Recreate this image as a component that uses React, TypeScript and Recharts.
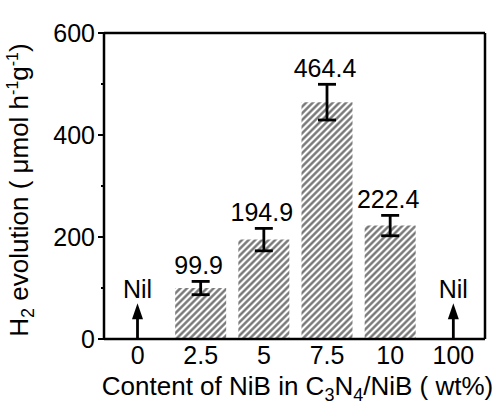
import { ComposedChart, Bar, Line, XAxis, YAxis, ErrorBar, LabelList } from "recharts";

// NiB loading (wt%) on the x axis
const categories = ["0", "2.5", "5", "7.5", "10", "100"];
// H2 evolution rate, µmol h-1 g-1 (no activity for pure C3N4 and pure NiB)
const h2Rates = [null, 99.9, 194.9, 464.4, 222.4, null];
const h2Errors = [null, 13, 22, 35, 20, null];
// height of the "Nil" arrows, in axis units
const nilMarks = [70, null, null, null, null, 70];
const yTicks = [0, 100, 200, 300, 400, 500, 600];
const yLabelled = [0, 200, 400, 600];

const data = categories.map((cat, i) => ({
  cat,
  rate: h2Rates[i],
  err: h2Errors[i],
  nil: nilMarks[i],
}));

const FONT = "'Liberation Sans', Arial, sans-serif";
const AXIS = { stroke: "#000", strokeWidth: 2.5 };

function YTick({ x, y, payload }: any) {
  const major = yLabelled.includes(payload.value);
  return (
    <g>
      <line x1={x - (major ? 6 : 3)} x2={x} y1={y} y2={y} stroke="#000" strokeWidth={2} />
      {major && (
        <text x={x - 9} y={y} dy="0.36em" textAnchor="end" fontSize={25} fontFamily={FONT} fill="#000">
          {payload.value}
        </text>
      )}
    </g>
  );
}

function XTick({ x, y, payload }: any) {
  return (
    <text x={x} y={y + 25} textAnchor="middle" fontSize={25} fontFamily={FONT} fill="#000">
      {payload.value}
    </text>
  );
}

function XTitle({ viewBox }: any) {
  const { x, y, width } = viewBox;
  return (
    <text x={x + width / 2 + 3} y={y + 56} textAnchor="middle" fontSize={26} fontFamily={FONT} fill="#000">
      Content of NiB in C
      <tspan dy={6} fontSize={18}>3</tspan>
      <tspan dy={-6}>N</tspan>
      <tspan dy={6} fontSize={18}>4</tspan>
      <tspan dy={-6}>/NiB ( wt%)</tspan>
    </text>
  );
}

function YTitle({ viewBox }: any) {
  const { y, height } = viewBox;
  const cx = 28;
  const cy = y + height / 2 + 4;
  return (
    <text
      x={cx}
      y={cy}
      transform={`rotate(-90, ${cx}, ${cy})`}
      textAnchor="middle"
      fontSize={26}
      fontFamily={FONT}
      fill="#000"
    >
      H
      <tspan dy={6} fontSize={18}>2</tspan>
      <tspan dy={-6}> evolution ( μmol h</tspan>
      <tspan dy={-10} fontSize={16}>-1</tspan>
      <tspan dy={10}>g</tspan>
      <tspan dy={-10} fontSize={16}>-1</tspan>
      <tspan dy={10}>)</tspan>
    </text>
  );
}

// value printed just above the top whisker
function RateLabel({ x, y, width, height, value }: any) {
  const i = h2Rates.indexOf(value);
  if (value == null || i < 0) return null;
  const e = h2Errors[i] ?? 0;
  const top = y - (e * height) / value;
  return (
    <text x={x + width / 2 - 2} y={top - 7} textAnchor="middle" fontSize={25} fontFamily={FONT} fill="#000">
      {value.toFixed(1)}
    </text>
  );
}

// upward arrow with "Nil" for samples without measurable activity
function NilArrow({ x, y, width, height, payload }: any) {
  if (!payload || payload.nil == null || !height) return <g />;
  const cx = x + width / 2;
  const base = y + height;
  return (
    <g>
      <line x1={cx} x2={cx} y1={base} y2={y + 12} stroke="#000" strokeWidth={2.8} />
      <polygon points={`${cx},${y} ${cx - 5.5},${y + 16} ${cx + 5.5},${y + 16}`} fill="#000" />
      <text x={cx} y={y - 5} textAnchor="middle" fontSize={25} fontFamily={FONT} fill="#000">
        Nil
      </text>
    </g>
  );
}

export default function App() {
  return (
    <div style={{ position: "absolute", left: 0, top: 0, width: 494, height: 405, background: "#fff" }}>
      <ComposedChart
        width={494}
        height={405}
        data={data}
        margin={{ top: 32, right: 8, left: 0, bottom: 0 }}
        barSize={51}
      >
        <defs>
          <pattern id="hatch" patternUnits="userSpaceOnUse" width={4.7} height={4.7} patternTransform="rotate(45)">
            <line x1={2.35} y1={0} x2={2.35} y2={4.7} stroke="#6f6f6f" strokeWidth={2.3} />
          </pattern>
        </defs>
        <XAxis
          dataKey="cat"
          height={66}
          padding={{ left: 2, right: 0 }}
          axisLine={AXIS}
          tickLine={false}
          tickSize={0}
          tickMargin={0}
          tick={<XTick />}
          interval={0}
          label={{ content: <XTitle /> }}
        />
        <XAxis
          xAxisId="top"
          dataKey="cat"
          orientation="top"
          height={1}
          tick={false}
          tickLine={false}
          axisLine={AXIS}
        />
        <YAxis
          width={104}
          domain={[0, 600]}
          ticks={yTicks}
          interval={0}
          axisLine={AXIS}
          tickLine={false}
          tickSize={0}
          tickMargin={0}
          tick={<YTick />}
          label={{ content: <YTitle /> }}
        />
        <YAxis
          yAxisId="right"
          orientation="right"
          width={1}
          domain={[0, 600]}
          tick={false}
          tickLine={false}
          axisLine={AXIS}
        />
        <Bar dataKey="rate" stackId="s" fill="url(#hatch)" isAnimationActive={false}>
          <ErrorBar dataKey="err" width={9} stroke="#000" strokeWidth={2.8} direction="y" />
          <LabelList dataKey="rate" content={<RateLabel />} />
        </Bar>
        <Bar dataKey="nil" stackId="s" fill="none" shape={<NilArrow />} isAnimationActive={false} />
        {/* invisible series so the top and right frame axes get a scale */}
        <Line
          xAxisId="top"
          yAxisId="right"
          dataKey="nil"
          stroke="none"
          dot={false}
          activeDot={false}
          legendType="none"
          isAnimationActive={false}
        />
      </ComposedChart>
    </div>
  );
}
